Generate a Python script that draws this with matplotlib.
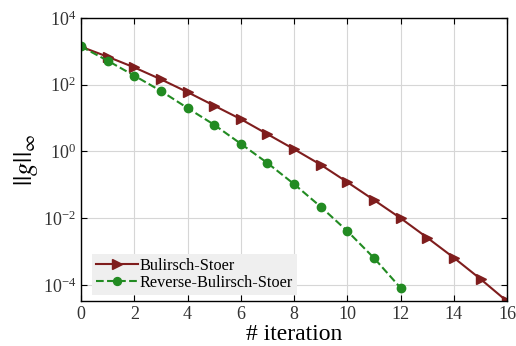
import numpy as np
import matplotlib
matplotlib.use("Agg")
import matplotlib.pyplot as plt

plt.rcParams['font.family'] = ['Liberation Serif', 'DejaVu Serif']
plt.rcParams['mathtext.fontset'] = 'stix'

# iterációk és gradiens normák (leolvasva)
iter_bs = np.arange(0, 17)
g_bs = [1380, 690, 330, 145, 60, 23.6, 9.3, 3.3, 1.17, 0.40, 0.12,
        0.035, 0.010, 0.0026, 6.5e-4, 1.5e-4, 3.2e-5]
iter_rbs = np.arange(0, 13)
g_rbs = [1400, 525, 187, 65, 20, 6.3, 1.7, 0.45, 0.105, 0.022, 0.0041,
         6.4e-4, 8.1e-5]

fig = plt.figure(figsize=(5.16, 3.46), dpi=100)
ax = fig.add_axes([0.157, 0.130, 0.826, 0.818])

ax.semilogy(iter_bs, g_bs, '-', color='#7f1d1d', marker='>', markersize=7.5,
            linewidth=1.5, label='Bulirsch-Stoer')
ax.semilogy(iter_rbs, g_rbs, '--', color='#228b22', marker='o', markersize=6,
            linewidth=1.5, label='Reverse-Bulirsch-Stoer')

ax.set_xlim(0, 16)
ax.set_ylim(3.3e-5, 1e4)
ax.set_xticks(np.arange(0, 17, 2))
ax.set_yticks([1e-4, 1e-2, 1e0, 1e2, 1e4])
ax.minorticks_off()
ax.grid(True, color='#d6d6d6', linewidth=0.8)
ax.tick_params(direction='in', top=True, right=True, labelsize=13,
               length=4, labelcolor='#333333')
for s in ax.spines.values():
    s.set_linewidth(1.0)

ax.set_xlabel('# iteration', fontsize=17, labelpad=1)
ax.set_ylabel(r'$||g||_\infty$', fontsize=19, labelpad=2)

leg = ax.legend(loc='lower left', bbox_to_anchor=(0.015, 0.005), fontsize=11.7,
                frameon=True, fancybox=False, borderpad=0.25, handlelength=2.55,
                handletextpad=0.1, labelspacing=0.05, borderaxespad=0.3,
                markerscale=0.95)
leg.get_frame().set_facecolor('#efefef')
leg.get_frame().set_edgecolor('none')
leg.get_frame().set_alpha(1)

fig.savefig('out.png', dpi=100)
